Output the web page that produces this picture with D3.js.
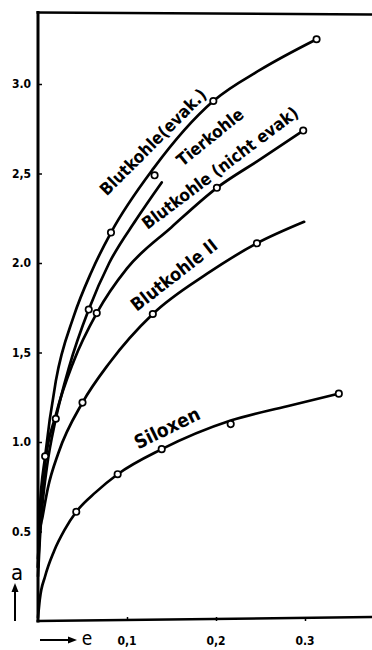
<!DOCTYPE html>
<html>
<head>
<meta charset="utf-8">
<script src="https://cdn.jsdelivr.net/npm/d3@7"></script>
<style>
  html, body { margin: 0; padding: 0; background: #fff; }
  svg { display: block; }
  text { font-family: "Liberation Sans Narrow", "DejaVu Sans Condensed", "DejaVu Sans", sans-serif; fill: #000; }
</style>
</head>
<body>
<svg id="chart" width="372" height="650"></svg>
<script>
// ---- data ----
const yTicks = [0.5, 1.0, 1.5, 2.0, 2.5, 3.0];
const yTickLabels = ["0.5", "1.0", "1,5", "2.0", "2,5", "3.0"];
const xTicks = [0.1, 0.2, 0.3];
const xTickLabels = ["0,1", "0,2", "0.3"];

const seriesNames = ["Blutkohle(evak.)", "Tierkohle", "Blutkohle (nicht evak)", "Blutkohle II", "Siloxen"];

// traced curves [e, a]
const evakCurve = [[0,0.3],[0.002,0.62],[0.008,0.92],[0.02,1.34],[0.04,1.7],[0.06,1.95],[0.082,2.17],[0.13,2.53],[0.197,2.905],[0.25,3.08],[0.313,3.25]];
const tierCurve = [[0,0.25],[0.002,0.45],[0.005,0.65],[0.01,0.86],[0.02,1.13],[0.035,1.42],[0.057,1.74],[0.08,2.0],[0.11,2.24],[0.139,2.45]];
const nichtCurve = [[0,0.3],[0.003,0.6],[0.008,0.88],[0.02,1.15],[0.04,1.45],[0.066,1.72],[0.1,1.97],[0.15,2.2],[0.201,2.42],[0.25,2.58],[0.298,2.74]];
const blut2Curve = [[0,0.35],[0.002,0.5],[0.005,0.58],[0.011,0.74],[0.023,0.94],[0.05,1.22],[0.08,1.44],[0.129,1.715],[0.19,1.94],[0.246,2.11],[0.299,2.23]];
const siloxCurve = [[0,0.02],[0.002,0.12],[0.008,0.25],[0.018,0.39],[0.03,0.51],[0.043,0.61],[0.065,0.72],[0.0895,0.82],[0.139,0.96],[0.2165,1.12],[0.28,1.2],[0.338,1.27]];

// measured points (circles)
const evakPoints = [[0.008,0.92],[0.082,2.17],[0.197,2.905],[0.313,3.25]];
const tierPoints = [[0.057,1.74],[0.131,2.49]];
const nichtPoints = [[0.02,1.13],[0.066,1.72],[0.201,2.42],[0.298,2.74]];
const blut2Points = [[0.05,1.22],[0.129,1.715],[0.246,2.11]];
const siloxPoints = [[0.043,0.61],[0.0895,0.82],[0.139,0.96],[0.2165,1.10],[0.338,1.27]];

// ---- drawing ----
const svg = d3.select("#chart");
const x = d3.scaleLinear().domain([0, 0.3]).range([38, 305]);
const y = d3.scaleLinear().domain([0, 3]).range([621, 84]);

// frame: y axis + top line
svg.append("line").attr("x1", x(0)).attr("x2", x(0)).attr("y1", 11).attr("y2", y(0)+1.5)
  .attr("stroke", "#000").attr("stroke-width", 3);
svg.append("line").attr("x1", x(0)-1.5).attr("x2", 372).attr("y1", 12.5).attr("y2", 14.5)
  .attr("stroke", "#000").attr("stroke-width", 2.5);

// y axis ticks
const yAxis = d3.axisRight(y).tickValues(yTicks).tickSize(4).tickFormat(() => "");
const gy = svg.append("g").attr("transform", `translate(${x(0)},0)`).call(yAxis);
gy.select(".domain").remove();
gy.selectAll(".tick line").attr("stroke", "#000").attr("stroke-width", 1.5);
svg.selectAll(".ylab").data(yTicks).enter().append("text")
  .attr("class", "ylab")
  .attr("x", 31).attr("y", d => y(d) + 4)
  .attr("text-anchor", "end")
  .attr("font-size", 12).attr("font-weight", "bold")
  .text((d, i) => yTickLabels[i]);

// x axis
const xAxis = d3.axisTop(x).tickValues(xTicks).tickSize(4).tickFormat(() => "");
const gx = svg.append("g").attr("transform", `translate(0,${y(0)})`).call(xAxis);
gx.select(".domain").remove();
gx.selectAll(".tick line").attr("stroke", "#000").attr("stroke-width", 1.5);
svg.append("line").attr("x1", x(0)-1.5).attr("x2", 372).attr("y1", y(0)).attr("y2", y(0)-4)
  .attr("stroke", "#000").attr("stroke-width", 2.5);
svg.selectAll(".xlab").data(xTicks).enter().append("text")
  .attr("class", "xlab")
  .attr("x", d => x(d)).attr("y", 645)
  .attr("text-anchor", "middle")
  .attr("font-size", 12).attr("font-weight", "bold")
  .text((d, i) => xTickLabels[i]);

// axis names with arrows
svg.append("text").attr("x", 17).attr("y", 580).attr("text-anchor", "middle")
  .attr("font-size", 22).attr("font-family", "DejaVu Sans").text("a");
svg.append("line").attr("x1", 15).attr("x2", 15).attr("y1", 587).attr("y2", 621)
  .attr("stroke", "#000").attr("stroke-width", 2);
svg.append("path").attr("d", "M15,583 L11.5,592 L18.5,592 Z").attr("fill", "#000");
svg.append("line").attr("x1", 40).attr("x2", 72).attr("y1", 640).attr("y2", 640)
  .attr("stroke", "#000").attr("stroke-width", 2);
svg.append("path").attr("d", "M77,640 L68,636.5 L68,643.5 Z").attr("fill", "#000");
svg.append("text").attr("x", 87).attr("y", 645).attr("text-anchor", "middle")
  .attr("font-size", 19).attr("font-family", "DejaVu Sans").text("e");

// curves
const line = d3.line().x(d => x(d[0])).y(d => y(d[1])).curve(d3.curveMonotoneX);
const curves = [evakCurve, tierCurve, nichtCurve, blut2Curve, siloxCurve];
const points = [evakPoints, tierPoints, nichtPoints, blut2Points, siloxPoints];
svg.selectAll(".curve").data(curves).enter().append("path")
  .attr("class", "curve")
  .attr("d", line)
  .attr("fill", "none").attr("stroke", "#000").attr("stroke-width", 2.7)
  .attr("stroke-linecap", "round");
points.forEach(pts => {
  svg.selectAll(null).data(pts).enter().append("circle")
    .attr("cx", d => x(d[0])).attr("cy", d => y(d[1])).attr("r", 3.2)
    .attr("fill", "#fff").attr("stroke", "#000").attr("stroke-width", 1.7);
});

// curve labels
const labelPos = [
  { cx: 153, cy: 142, rot: -45, size: 17 },
  { cx: 210, cy: 137, rot: -39, size: 17 },
  { cx: 220, cy: 168, rot: -37, size: 17 },
  { cx: 174, cy: 275, rot: -38, size: 18 },
  { cx: 167, cy: 428, rot: -26, size: 19 }
];
svg.selectAll(".clab").data(seriesNames).enter().append("text")
  .attr("class", "clab")
  .attr("transform", (d, i) => `translate(${labelPos[i].cx},${labelPos[i].cy}) rotate(${labelPos[i].rot})`)
  .attr("text-anchor", "middle").attr("dy", "0.35em")
  .attr("font-size", (d, i) => labelPos[i].size).attr("font-weight", "bold")
  .text(d => d);
</script>
</body>
</html>
